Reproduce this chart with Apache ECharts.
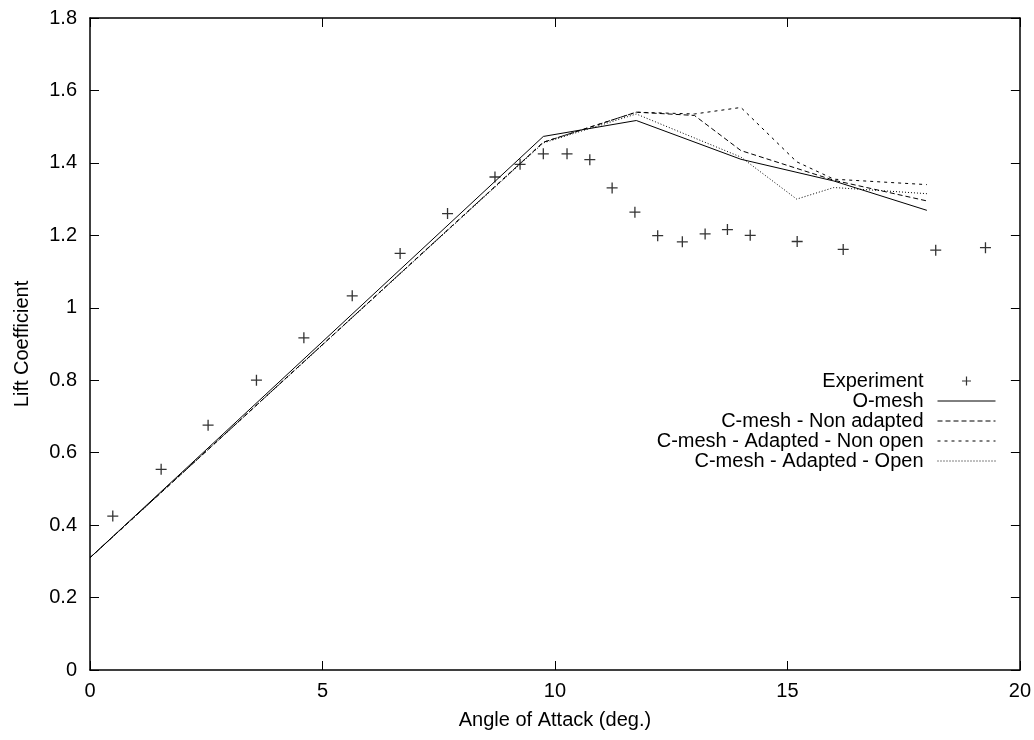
<!DOCTYPE html>
<html>
<head>
<meta charset="utf-8">
<script src="https://cdn.jsdelivr.net/npm/echarts@6/dist/echarts.min.js"></script>
<style>html,body{margin:0;padding:0;background:#fff}#c{width:1034px;height:740px}</style>
</head>
<body>
<div id="c"></div>
<script>
// Experiment
const expX = [0.49, 1.53, 2.54, 3.58, 4.60, 5.64, 6.67, 7.69, 8.71, 9.25, 9.75, 10.26, 10.75, 11.23, 11.72, 12.21, 12.74, 13.23, 13.71, 14.2, 15.21, 16.2, 18.19, 19.26];
const expY = [0.425, 0.554, 0.676, 0.80, 0.917, 1.033, 1.15, 1.26, 1.361, 1.396, 1.425, 1.425, 1.409, 1.331, 1.264, 1.199, 1.182, 1.204, 1.216, 1.2, 1.183, 1.161, 1.159, 1.166];
// O-mesh
const omeshX = [0, 9.75, 11.75, 14.0, 16.0, 18.0];
const omeshY = [0.31, 1.473, 1.517, 1.41, 1.35, 1.269];
// C-mesh - Non adapted
const nonAdX = [0, 9.75, 11.75, 13.0, 14.0, 16.0, 18.0];
const nonAdY = [0.31, 1.457, 1.54, 1.531, 1.434, 1.352, 1.295];
// C-mesh - Adapted - Non open
const adNoX = [0, 9.75, 11.75, 13.0, 14.0, 15.2, 16.0, 18.0];
const adNoY = [0.31, 1.457, 1.54, 1.535, 1.553, 1.403, 1.355, 1.34];
// C-mesh - Adapted - Open
const adOpX = [0, 9.75, 11.75, 14.0, 15.2, 16.0, 18.0];
const adOpY = [0.31, 1.455, 1.535, 1.416, 1.30, 1.332, 1.315];

const names = ['Experiment', 'O-mesh', 'C-mesh - Non adapted', 'C-mesh - Adapted - Non open', 'C-mesh - Adapted - Open'];
const dashes = ['solid', [5, 3], [3, 4], [1, 2]];
const zip = (a, b) => a.map((v, i) => [v, b[i]]);
const FONT = 'Liberation Sans, Arial, Helvetica, sans-serif';
const FS = 20;
const plus = 'path://M0,5L10,5M5,0L5,10';

function lineSeries(name, xs, ys, dash) {
  return {
    name, type: 'line', data: zip(xs, ys), symbol: 'none', animation: false,
    lineStyle: { color: '#000', width: 1, type: dash }, itemStyle: { color: '#000' }
  };
}

const axisCommonX = {
  type: 'value', min: 0, max: 20, interval: 5,
  axisLine: { show: true, onZero: false, lineStyle: { color: '#000', width: 1.5 } },
  axisTick: { show: true, inside: true, length: 9, lineStyle: { color: '#000', width: 1 } },
  splitLine: { show: false }
};
const axisCommonY = {
  type: 'value', min: 0, max: 1.8, interval: 0.2,
  axisLine: { show: true, onZero: false, lineStyle: { color: '#000', width: 1.5 } },
  axisTick: { show: true, inside: true, length: 9, lineStyle: { color: '#000', width: 1 } },
  splitLine: { show: false }
};

const lineLegendStyle = { color: 'transparent', borderWidth: 0, opacity: 0 };
const legendLine = (i) => ({
  name: names[i], itemStyle: lineLegendStyle,
  lineStyle: { color: '#000', width: 1, type: dashes[i - 1] }
});

const chart = echarts.init(document.getElementById('c'), null, { renderer: 'canvas' });
chart.setOption({
  animation: false,
  backgroundColor: '#fff',
  textStyle: { fontFamily: FONT },
  grid: { left: 90, right: 14, top: 18, bottom: 70 },
  xAxis: [
    Object.assign({}, axisCommonX, {
      position: 'bottom',
      name: 'Angle of Attack (deg.)', nameLocation: 'middle', nameGap: 40,
      nameTextStyle: { color: '#000', fontSize: FS, fontFamily: FONT },
      axisLabel: { color: '#000', fontSize: FS, fontFamily: FONT, margin: 11 }
    }),
    Object.assign({}, axisCommonX, { position: 'top', axisLabel: { show: false } })
  ],
  yAxis: [
    Object.assign({}, axisCommonY, {
      position: 'left',
      name: 'Lift Coefficient', nameLocation: 'middle', nameGap: 58, nameRotate: 90,
      nameTextStyle: { color: '#000', fontSize: FS, fontFamily: FONT },
      axisLabel: { color: '#000', fontSize: FS, fontFamily: FONT, margin: 13 }
    }),
    Object.assign({}, axisCommonY, { position: 'right', axisLabel: { show: false } })
  ],
  legend: {
    orient: 'vertical', align: 'right', right: 38, top: 371, padding: 0,
    itemWidth: 58, itemHeight: 9, itemGap: 0,
    lineStyle: { width: 1 },
    textStyle: { color: '#000', fontSize: FS, fontFamily: FONT, padding: [0, 9, 0, 0] },
    data: [
      { name: names[0], icon: plus, itemStyle: { color: 'none', borderColor: '#000', borderWidth: 1.2 } },
      legendLine(1), legendLine(2), legendLine(3), legendLine(4)
    ]
  },
  series: [
    {
      name: names[0], type: 'scatter', data: zip(expX, expY), symbol: plus, symbolSize: 11,
      itemStyle: { color: 'none', borderColor: '#000', borderWidth: 1.3 }, animation: false
    },
    lineSeries(names[1], omeshX, omeshY, dashes[0]),
    lineSeries(names[2], nonAdX, nonAdY, dashes[1]),
    lineSeries(names[3], adNoX, adNoY, dashes[2]),
    lineSeries(names[4], adOpX, adOpY, dashes[3])
  ]
});
</script>
</body>
</html>
